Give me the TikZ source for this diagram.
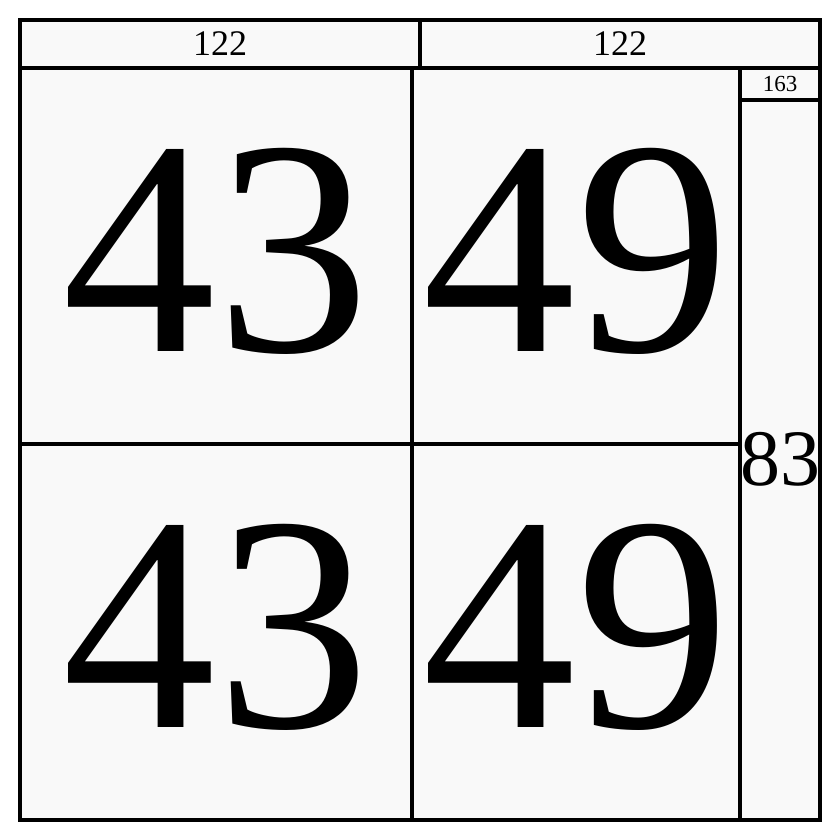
\documentclass[tikz,border=0pt]{standalone}
\usepackage{fontspec}
\setmainfont{Liberation Serif}
\definecolor{cellgray}{RGB}{249,249,249}
\begin{document}
\begin{tikzpicture}[x=1pt,y=-1pt,
  cell/.style={draw=black,line width=3.6pt,fill=cellgray,inner sep=0pt,outer sep=0pt,anchor=north west},
  lbl/.style={anchor=base,inner sep=0pt,outer sep=0pt},
  big/.style={lbl,font=\fontsize{307pt}{307pt}\selectfont},
  hdr/.style={lbl,font=\fontsize{36pt}{36pt}\selectfont},
  tiny/.style={lbl,font=\fontsize{23pt}{23pt}\selectfont},
  mid/.style={lbl,font=\fontsize{80pt}{80pt}\selectfont}]
\useasboundingbox[fill=white] (0,0) rectangle (840,840);
% header
\node[cell,minimum width=400pt,minimum height=48pt] (h1) at (20,20) {};
\node[cell,minimum width=400pt,minimum height=48pt] (h2) at (420,20) {};
% grid cells
\node[cell,minimum width=392pt,minimum height=376pt] (c11) at (20,68) {};
\node[cell,minimum width=328pt,minimum height=376pt] (c12) at (412,68) {};
\node[cell,minimum width=392pt,minimum height=376pt] (c21) at (20,444) {};
\node[cell,minimum width=328pt,minimum height=376pt] (c22) at (412,444) {};
% right column
\node[cell,minimum width=80pt,minimum height=32pt] (r1) at (740,68) {};
\node[cell,minimum width=80pt,minimum height=720pt] (r2) at (740,100) {};
% labels
\node[hdr] (th1) at (220,56) {122};
\node[hdr] (th2) at (620,56) {122};
\node[big] (t11) at (216,351) {43};
\node[big] (t12) at (576,351) {49};
\node[big] (t21) at (216,727) {43};
\node[big] (t22) at (576,727) {49};
\node[tiny] (tr1) at (780,92) {163};
\node[mid] (tr2) at (780,485) {83};
\end{tikzpicture}
\end{document}
